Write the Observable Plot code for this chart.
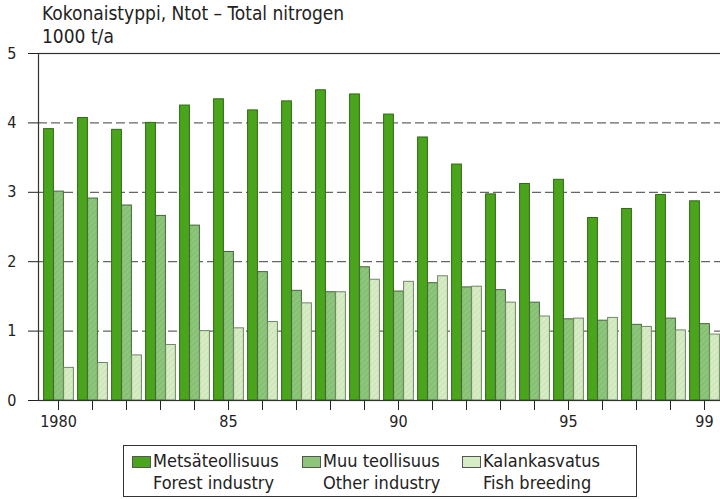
<!DOCTYPE html>
<html>
<head>
<meta charset="utf-8">
<script src="https://cdn.jsdelivr.net/npm/d3@7"></script>
<script src="https://cdn.jsdelivr.net/npm/@observablehq/plot@0.6"></script>
<style>
  html, body { margin: 0; padding: 0; background: #fff; overflow: hidden; }
  #wrap { position: relative; width: 720px; height: 499px; font-family: "Liberation Sans Narrow", "DejaVu Sans Condensed", "Roboto Condensed", sans-serif; font-stretch: condensed; color: #222; }
  .t { position: absolute; white-space: nowrap; font-size: 19px; line-height: 22px; }
  #legend { position: absolute; left: 123px; top: 445px; width: 514px; height: 52px; border: 1px solid #333; box-sizing: border-box; }
  .li { position: absolute; font-size: 18px; line-height: 21px; white-space: nowrap; }
  .sw { position: absolute; width: 19px; height: 12px; border: 1px solid #555; box-sizing: border-box; }
</style>
</head>
<body>
<svg width="0" height="0" style="position:absolute">
  <defs>
    <pattern id="hatchO" width="4" height="4" patternUnits="userSpaceOnUse" patternTransform="rotate(45)">
      <rect width="4" height="4" fill="#8dc67b"></rect>
      <line x1="0" y1="0" x2="0" y2="4" stroke="#7bb768" stroke-width="1.5"></line>
    </pattern>
    <pattern id="hatchK" width="4" height="4" patternUnits="userSpaceOnUse" patternTransform="rotate(45)">
      <rect width="4" height="4" fill="#d6ecc4"></rect>
      <line x1="0" y1="0" x2="0" y2="4" stroke="#c6e0b2" stroke-width="1.5"></line>
    </pattern>
  </defs>
</svg>
<div id="wrap">
  <div class="t" style="left:42px; top:2px;">Kokonaistyppi, Ntot – Total nitrogen</div>
  <div class="t" style="left:42px; top:25px;">1000 t/a</div>
  <div id="chart"></div>
  <div id="legend"></div>
</div>
<script>
// ---- data ----
const years = [1980, 1981, 1982, 1983, 1984, 1985, 1986, 1987, 1988, 1989,
               1990, 1991, 1992, 1993, 1994, 1995, 1996, 1997, 1998, 1999];
const forestIndustry = [3.91, 4.07, 3.90, 4.00, 4.25, 4.34, 4.18, 4.31, 4.47, 4.41,
                        4.12, 3.79, 3.40, 2.97, 3.12, 3.18, 2.63, 2.76, 2.96, 2.87];
const otherIndustry  = [3.01, 2.91, 2.81, 2.66, 2.52, 2.14, 1.85, 1.58, 1.56, 1.92,
                        1.57, 1.69, 1.63, 1.59, 1.41, 1.17, 1.15, 1.09, 1.18, 1.10];
const fishBreeding   = [0.47, 0.54, 0.65, 0.80, 1.00, 1.04, 1.13, 1.40, 1.56, 1.74,
                        1.71, 1.79, 1.64, 1.41, 1.21, 1.18, 1.19, 1.06, 1.01, 0.95];
const xTickYears  = [1980, 1985, 1990, 1995, 1999];
const xTickLabels = ["1980", "85", "90", "95", "99"];
const yTicks = [0, 1, 2, 3, 4, 5];
const gridValues = [1, 2, 3, 4];
const seriesFi = ["Metsäteollisuus", "Muu teollisuus", "Kalankasvatus"];
const seriesEn = ["Forest industry", "Other industry", "Fish breeding"];

const rows = years.map((year, i) => ({
  year,
  forest: forestIndustry[i],
  other: otherIndustry[i],
  fish: fishBreeding[i]
}));
const labelFor = new Map(xTickYears.map((y, i) => [y, xTickLabels[i]]));

const fills = ["#4aa51c", "url(#hatchO)", "url(#hatchK)"];
const strokes = ["#2e6a12", "#45663a", "#6f8766"];
const swatchFills = ["#4aa51c", "#8dc67b", "#d6ecc4"];

const chart = Plot.plot({
  width: 720,
  height: 440,
  marginTop: 53,
  marginBottom: 40,
  marginLeft: 38,
  marginRight: 0,
  style: { fontSize: "16px", fontFamily: "'Liberation Sans Narrow', 'DejaVu Sans Condensed', sans-serif", color: "#222", background: "transparent", overflow: "hidden" },
  x: { type: "band", domain: years, range: [38, 724], padding: 0, tickSize: 10, tickPadding: 5,
       tickFormat: d => labelFor.get(d) ?? "", label: null },
  y: { domain: [0, 5], ticks: yTicks, tickSize: 10, tickPadding: 12,
       tickFormat: d => String(d), label: null },
  marks: [
    Plot.ruleY(gridValues, { stroke: "#666", strokeWidth: 1.3, strokeDasharray: "9,4" }),
    Plot.barY(rows, { x: "year", y: "forest", fill: fills[0], stroke: strokes[0], strokeWidth: 1, insetLeft: 2.6, insetRight: 21.6 }),
    Plot.barY(rows, { x: "year", y: "other",  fill: fills[1], stroke: strokes[1], strokeWidth: 1, insetLeft: 12.6, insetRight: 11.6 }),
    Plot.barY(rows, { x: "year", y: "fish",   fill: fills[2], stroke: strokes[2], strokeWidth: 1, insetLeft: 22.6, insetRight: 1.6 }),
    Plot.frame({ stroke: "#333", strokeWidth: 1.2, insetRight: -8 })
  ]
});
chart.style.position = "absolute";
chart.style.left = "0px";
chart.style.top = "0px";
chart.style.overflow = "hidden";
document.getElementById("chart").appendChild(chart);

// legend
const legend = document.getElementById("legend");
const legendX = [8, 178, 338];
seriesFi.forEach((name, i) => {
  const sw = document.createElement("div");
  sw.className = "sw";
  sw.style.left = legendX[i] + "px";
  sw.style.top = "10px";
  sw.style.background = swatchFills[i];
  legend.appendChild(sw);
  const l1 = document.createElement("div");
  l1.className = "li";
  l1.style.left = (legendX[i] + 21) + "px";
  l1.style.top = "4px";
  l1.textContent = name;
  legend.appendChild(l1);
  const l2 = document.createElement("div");
  l2.className = "li";
  l2.style.left = (legendX[i] + 21) + "px";
  l2.style.top = "26px";
  l2.textContent = seriesEn[i];
  legend.appendChild(l2);
});
</script>
</body>
</html>
